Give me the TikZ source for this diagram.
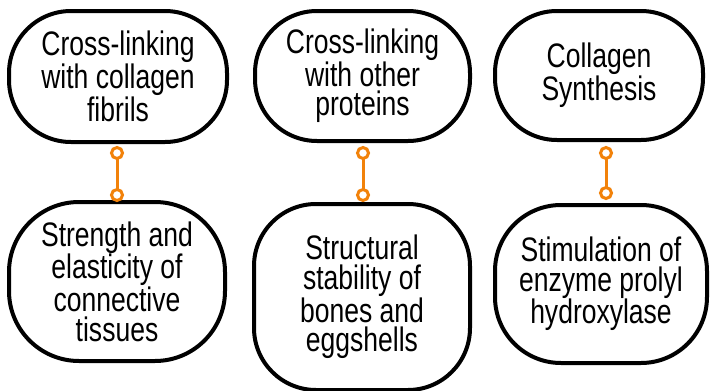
\documentclass[tikz,border=0pt]{standalone}
\usepackage{fontspec}
\setmainfont[FakeStretch=0.78]{Liberation Sans}
\definecolor{conn}{RGB}{242,130,10}
\tikzset{
  box/.style={draw=black, line width=4pt, fill=white, rectangle, align=center,
    font=\fontsize{34}{29.5}\selectfont, inner sep=0pt},
  link/.style={draw=conn, line width=3pt},
  dot/.style={draw=conn, line width=3pt, fill=white, circle, minimum size=11pt, inner sep=0pt}
}
\begin{document}
\begin{tikzpicture}[x=1pt,y=-1pt]
\useasboundingbox (0,0) rectangle (710,391);
\begin{scope}
\clip (0,0) rectangle (710,391);
\node[box, minimum width=218pt, minimum height=131pt, rounded corners=62pt] (b1) at (118,76.5) {Cross-linking\\with collagen\\fibrils};
\node[box, minimum width=215pt, minimum height=130pt, rounded corners=62pt] (b2) at (362.5,76) {Cross-linking\\with other\\proteins};
\node[box, minimum width=208pt, minimum height=129pt, rounded corners=62pt] (b3) at (599,75.5) {Collagen\\Synthesis};
\node[box, minimum width=216pt, minimum height=159pt, rounded corners=70pt] (b4) at (117,281.5) {Strength and\\elasticity of\\connective\\tissues};
\node[box, minimum width=216pt, minimum height=186pt, rounded corners=62pt] (b5) at (362,297) {Structural\\stability of\\bones and\\eggshells};
\node[box, minimum width=212pt, minimum height=158pt, rounded corners=66pt] (b6) at (601,284) {Stimulation of\\enzyme prolyl\\hydroxylase};
\end{scope}
\coordinate (c1a) at (117,153);
\coordinate (c1b) at (117,195);
\coordinate (c2a) at (363,153);
\coordinate (c2b) at (363,195);
\coordinate (c3a) at (606,153);
\coordinate (c3b) at (606,193);
\draw[link] (c1a) -- (c1b);
\draw[link] (c2a) -- (c2b);
\draw[link] (c3a) -- (c3b);
\foreach \c in {c1a,c1b,c2a,c2b,c3a,c3b} {
  \node[dot] (d-\c) at (\c) {};
}
\end{tikzpicture}
\end{document}
